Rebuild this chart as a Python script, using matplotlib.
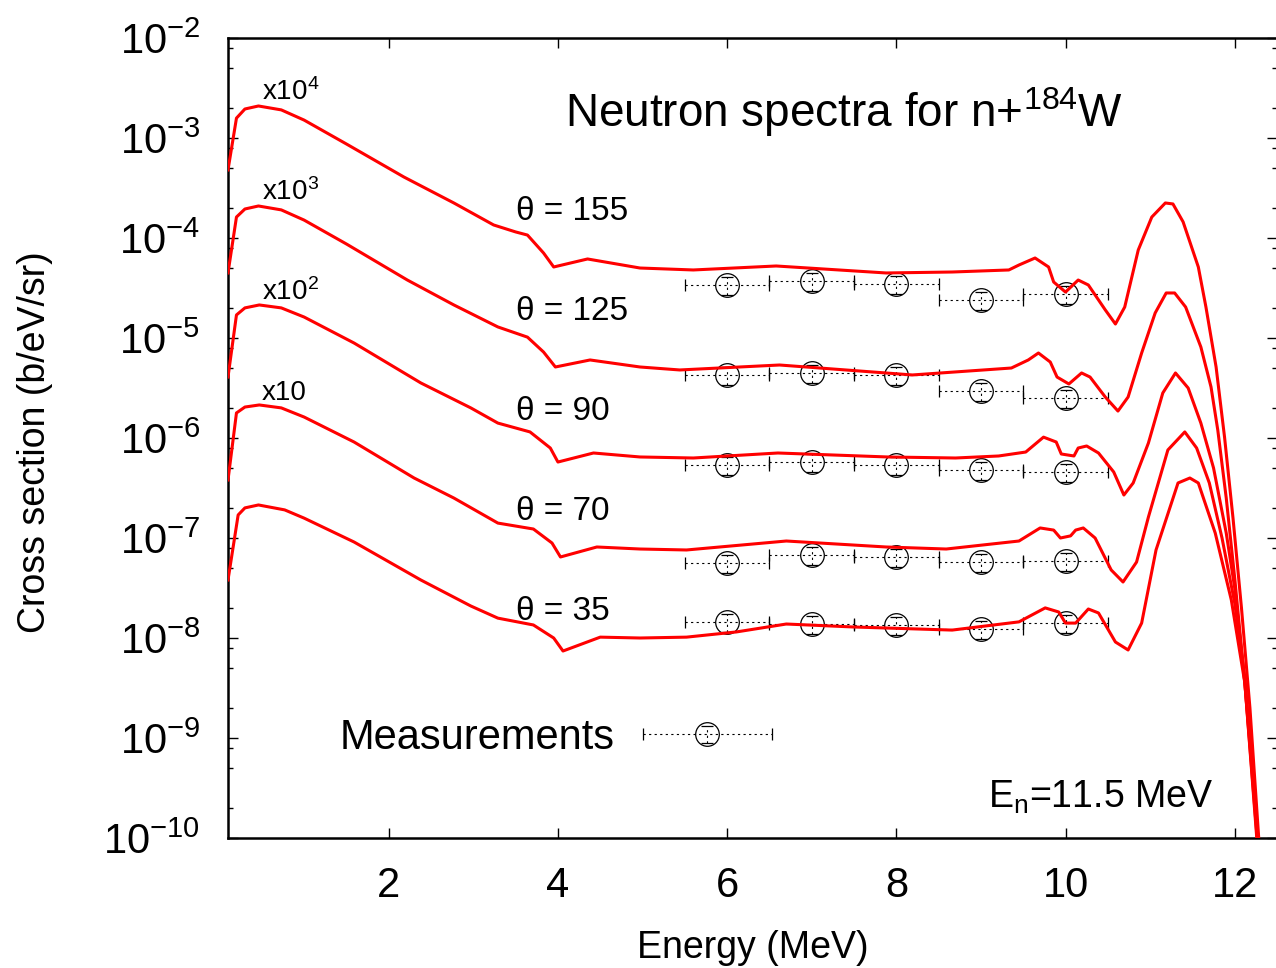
import numpy as np
import matplotlib
matplotlib.use("Agg")
import matplotlib.pyplot as plt
from matplotlib.ticker import LogLocator, NullFormatter, FixedLocator
from matplotlib.container import ErrorbarContainer
from matplotlib.legend_handler import HandlerErrorbar

plt.rcParams['font.family'] = ['Liberation Sans', 'DejaVu Sans']
plt.rcParams['mathtext.fontset'] = 'custom'
plt.rcParams['mathtext.rm'] = 'Liberation Sans'
plt.rcParams['mathtext.it'] = 'Liberation Sans:italic'
plt.rcParams['mathtext.bf'] = 'Liberation Sans:bold'
plt.rcParams['mathtext.sf'] = 'Liberation Sans'

# ---------------------------------------------------------------------------
# Calculated double-differential neutron spectra, n + 184W at En = 11.5 MeV
# (unscaled cross sections in b/eV/sr; energies in MeV)
# ---------------------------------------------------------------------------
angles = [155, 125, 90, 70, 35]
scales = [1e4, 1e3, 1e2, 1e1, 1.0]
scale_labels = ['x10$^{4}$', 'x10$^{3}$', 'x10$^{2}$', 'x10', None]

e_155 = [0.10, 0.20, 0.30, 0.46, 0.73, 1.00, 1.50, 2.18, 2.77, 3.24, 3.50, 3.64,
         3.83, 3.95, 4.35, 4.97, 5.60, 6.58, 7.88, 8.66, 9.33, 9.45, 9.64, 9.80,
         9.86, 10.00, 10.15, 10.27, 10.47, 10.59, 10.70, 10.86, 11.02, 11.18,
         11.27, 11.39, 11.57, 11.66, 11.78, 11.88, 11.98, 12.08, 12.18, 12.30]
xs_155 = [4.79e-8, 1.58e-7, 1.95e-7, 2.09e-7, 1.91e-7, 1.51e-7, 8.71e-8, 4.07e-8,
          2.24e-8, 1.35e-8, 1.15e-8, 1.07e-8, 7.08e-9, 5.13e-9, 6.17e-9, 5.01e-9,
          4.79e-9, 5.25e-9, 4.47e-9, 4.57e-9, 4.79e-9, 5.37e-9, 6.31e-9, 5.13e-9,
          3.63e-9, 2.88e-9, 3.80e-9, 3.39e-9, 1.91e-9, 1.38e-9, 2.04e-9, 7.59e-9,
          1.62e-8, 2.24e-8, 2.19e-8, 1.45e-8, 5.13e-9, 2.04e-9, 5.13e-10,
          1.02e-10, 1.58e-11, 2.00e-12, 2.00e-13, 6.3e-15]

e_125 = [0.10, 0.20, 0.30, 0.46, 0.73, 1.00, 1.50, 2.22, 2.77, 3.29, 3.64, 3.83,
         3.97, 4.38, 4.97, 5.44, 6.62, 8.19, 9.36, 9.56, 9.68, 9.82, 9.90, 10.04,
         10.19, 10.29, 10.47, 10.62, 10.74, 10.90, 11.06, 11.19, 11.29, 11.42,
         11.60, 11.72, 11.80, 11.90, 12.00, 12.12, 12.27, 12.33]
xs_125 = [4.47e-8, 1.62e-7, 1.95e-7, 2.09e-7, 1.91e-7, 1.51e-7, 8.71e-8, 3.80e-8,
          2.14e-8, 1.29e-8, 1.02e-8, 7.24e-9, 5.13e-9, 6.03e-9, 5.13e-9, 4.79e-9,
          5.37e-9, 4.27e-9, 5.01e-9, 6.03e-9, 7.08e-9, 5.75e-9, 4.07e-9, 3.47e-9,
          4.47e-9, 4.07e-9, 2.57e-9, 1.86e-9, 2.57e-9, 7.08e-9, 1.78e-8, 2.82e-8,
          2.82e-8, 2.04e-8, 8.13e-9, 3.24e-9, 1.20e-9, 2.51e-10, 3.98e-11,
          3.55e-12, 7.94e-14, 1.6e-14]

e_90 = [0.10, 0.20, 0.30, 0.47, 0.73, 1.00, 1.59, 2.38, 2.97, 3.29, 3.67, 3.91,
        4.00, 4.42, 4.97, 5.60, 6.60, 7.90, 8.70, 9.21, 9.53, 9.74, 9.89, 9.95,
        10.10, 10.15, 10.25, 10.39, 10.57, 10.69, 10.80, 10.98, 11.15, 11.30,
        11.45, 11.60, 11.75, 11.90, 12.00, 12.12, 12.27, 12.33]
xs_90 = [4.07e-8, 1.70e-7, 2.00e-7, 2.14e-7, 2.00e-7, 1.62e-7, 8.91e-8, 3.55e-8,
         2.00e-8, 1.41e-8, 1.15e-8, 7.94e-9, 5.75e-9, 7.08e-9, 6.46e-9, 6.31e-9,
         7.08e-9, 6.46e-9, 6.31e-9, 6.61e-9, 7.24e-9, 1.02e-8, 9.12e-9, 6.92e-9,
         6.61e-9, 7.94e-9, 8.32e-9, 7.08e-9, 4.57e-9, 2.69e-9, 3.55e-9, 8.91e-9,
         2.82e-8, 4.47e-8, 3.16e-8, 1.41e-8, 5.01e-9, 1.12e-9, 3.16e-10,
         3.55e-11, 8.91e-13, 2.0e-13]

e_70 = [0.10, 0.20, 0.30, 0.47, 0.73, 1.00, 1.59, 2.30, 2.77, 3.29, 3.71, 3.93,
        4.03, 4.46, 4.97, 5.52, 6.70, 7.88, 8.59, 9.45, 9.70, 9.86, 9.94, 10.06,
        10.12, 10.21, 10.35, 10.54, 10.68, 10.84, 10.98, 11.21, 11.41, 11.55,
        11.70, 11.85, 12.00, 12.12, 12.27, 12.33]
xs_70 = [3.80e-8, 1.78e-7, 2.04e-7, 2.14e-7, 2.00e-7, 1.62e-7, 9.12e-8, 3.98e-8,
         2.51e-8, 1.41e-8, 1.23e-8, 8.91e-9, 6.46e-9, 8.13e-9, 7.76e-9, 7.59e-9,
         9.33e-9, 8.13e-9, 7.76e-9, 9.33e-9, 1.26e-8, 1.20e-8, 1.00e-8, 1.05e-8,
         1.20e-8, 1.26e-8, 1.00e-8, 4.79e-9, 3.63e-9, 5.75e-9, 1.62e-8, 7.59e-8,
         1.15e-7, 7.94e-8, 3.55e-8, 1.00e-8, 2.24e-9, 3.98e-10, 1.12e-11, 2.5e-12]

e_35 = [0.10, 0.22, 0.30, 0.46, 0.77, 1.00, 1.59, 2.38, 2.97, 3.29, 3.71, 3.95,
        4.06, 4.50, 4.97, 5.52, 6.11, 6.70, 7.48, 8.66, 9.45, 9.76, 9.92, 10.00,
        10.12, 10.27, 10.39, 10.59, 10.74, 10.90, 11.07, 11.33, 11.47, 11.57,
        11.77, 11.96, 12.12, 12.27, 12.33]
xs_35 = [3.80e-8, 1.70e-7, 2.00e-7, 2.14e-7, 1.91e-7, 1.58e-7, 9.12e-8, 3.80e-8,
         2.09e-8, 1.58e-8, 1.35e-8, 1.00e-8, 7.41e-9, 1.02e-8, 1.00e-8, 1.02e-8,
         1.15e-8, 1.38e-8, 1.29e-8, 1.20e-8, 1.45e-8, 2.00e-8, 1.82e-8, 1.41e-8,
         1.41e-8, 1.95e-8, 1.78e-8, 9.12e-9, 7.59e-9, 1.41e-8, 7.59e-8, 3.55e-7,
         3.98e-7, 3.55e-7, 1.12e-7, 2.40e-8, 3.55e-9, 1.12e-10, 2.5e-11]

curve_energy = [e_155, e_125, e_90, e_70, e_35]
curve_xs = [xs_155, xs_125, xs_90, xs_70, xs_35]

# Measured spectra, energy bins of 1 MeV
meas_energy = [6.0, 7.0, 8.0, 9.0, 10.0]
meas_bin_half = [0.5, 0.5, 0.5, 0.5, 0.5]
meas_rel_err = 0.2
meas_155 = [3.39e-9, 3.72e-9, 3.47e-9, 2.40e-9, 2.75e-9]
meas_125 = [4.27e-9, 4.47e-9, 4.27e-9, 2.95e-9, 2.51e-9]
meas_90 = [5.37e-9, 5.75e-9, 5.37e-9, 4.79e-9, 4.57e-9]
meas_70 = [5.62e-9, 6.76e-9, 6.46e-9, 5.75e-9, 5.89e-9]
meas_35 = [1.45e-8, 1.38e-8, 1.35e-8, 1.23e-8, 1.41e-8]
meas_xs = [meas_155, meas_125, meas_90, meas_70, meas_35]

# ---------------------------------------------------------------------------
W, H = 1276, 968
fig = plt.figure(figsize=(W / 100, H / 100), dpi=100)
ax = fig.add_axes([228 / W, 1 - 838 / H, 1049 / W, 800 / H])

dot = (0, (2.0, 3.0))
meas_handle = None
for k, (ang, sc) in enumerate(zip(angles, scales)):
    e = np.asarray(curve_energy[k])
    y = np.asarray(curve_xs[k]) * sc
    ax.plot(e, y, color='#ff0000', lw=2.2, zorder=3)

    m = np.asarray(meas_xs[k]) * sc
    eb = ax.errorbar(meas_energy, m, xerr=meas_bin_half, yerr=meas_rel_err * m,
                     fmt='o', ms=17, mfc='none', mec='black', mew=0.9,
                     ecolor='black', elinewidth=0.8, capsize=4.5, capthick=0.6,
                     zorder=2, label='Measurements' if k == 0 else None)
    for bar in eb[2]:
        bar.set_linestyle(dot)
    for cap in eb[1]:
        cap.set_color('0.45')
    if k == 0:
        meas_handle = eb

    # angle labels and scaling factors
    ax.text(3.5, 1.5e-8 * sc, f'θ = {ang}', fontsize=24, ha='left', va='baseline')
    if scale_labels[k] is not None:
        ax.text(0.5, 2.4e-7 * sc, scale_labels[k], fontsize=20, ha='left',
                va='baseline')

ax.set_xlim(0.1, 12.5)
ax.set_yscale('log')
ax.set_ylim(1e-10, 1e-2)

ax.xaxis.set_major_locator(FixedLocator([2, 4, 6, 8, 10, 12]))
ax.yaxis.set_major_locator(LogLocator(base=10, numticks=20))
ax.yaxis.set_minor_locator(LogLocator(base=10, subs=(2.0, 5.0, 8.0), numticks=20))
ax.yaxis.set_minor_formatter(NullFormatter())
ax.tick_params(which='both', direction='in', top=True, right=True)
ax.tick_params(which='major', length=7, width=1.0, labelsize=30)
ax.tick_params(axis='y', which='major', pad=20)
ax.tick_params(axis='x', which='major', pad=20)
ax.tick_params(which='minor', length=3.5, width=1.0)
for sp in ax.spines.values():
    sp.set_linewidth(1.8)

# titles and axis labels
ax.text(0.587, 0.889, 'Neutron spectra for n+$^{184}$W', transform=ax.transAxes,
        fontsize=33, ha='center', va='baseline')
ax.text(0.939, 0.0375, 'E$_{\\mathregular{n}}$=11.5 MeV', transform=ax.transAxes,
        fontsize=27, ha='right', va='baseline')
fig.text(753 / W, 1 - 958 / H, 'Energy (MeV)', fontsize=27, ha='center',
         va='baseline')
fig.text(35 / W, 1 - 442 / H, 'Cross section (b/eV/sr)', fontsize=27,
         rotation=90, ha='center', va='center')

# legend: label on the left, sample on the right
leg = ax.legend(handles=[meas_handle], labels=['Measurements'],
                loc='center right', bbox_to_anchor=((772 - 228) / 1049, 0.125),
                frameon=False, fontsize=30, markerfirst=False,
                handlelength=3.1, handletextpad=0.67, borderpad=0,
                borderaxespad=0,
                handler_map={ErrorbarContainer: HandlerErrorbar(xerr_size=1.55,
                                                                yerr_size=0.2)})

fig.savefig('out.png', dpi=100)
